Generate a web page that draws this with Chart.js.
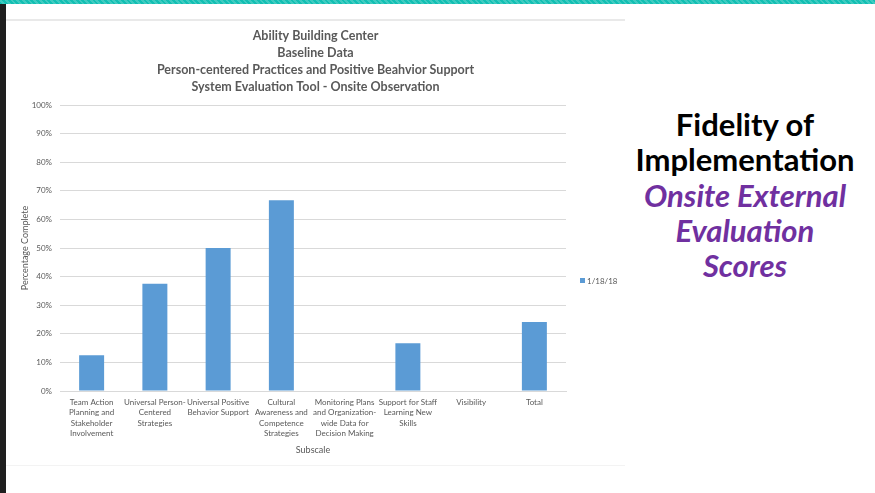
<!DOCTYPE html>
<html>
<head>
<meta charset="utf-8">
<script src="https://cdn.jsdelivr.net/npm/chart.js@4.4.0/dist/chart.umd.min.js"></script>
<style>
  body { margin: 0; width: 875px; height: 493px; background: #fff; position: relative; overflow: hidden; font-family: Lato, "Open Sans", sans-serif; }
  #strip { position: absolute; left: 0; top: 0; width: 875px; height: 4px;
    background: repeating-linear-gradient(45deg, #12bfb3 0 2px, #3fcbc0 2px 4px); }
  #sidebar { position: absolute; left: 0; top: 4px; width: 6px; height: 489px; background: #1f1f1f; }
  #chartBox { position: absolute; left: 6px; top: 19px; width: 619px; height: 444px;
    border-top: 2px solid #e9e9e9; border-bottom: 1px solid #f3f3f3; background: #fff; }
  #side { position: absolute; left: 625px; top: 107px; width: 240px; text-align: center; font-size: 31px; font-weight: bold; line-height: 35.3px; }
  #side .a { color: #000; }
  #side .b { color: #7030a0; font-style: italic; }
</style>
</head>
<body>
<div id="strip"></div>
<div id="sidebar"></div>
<div id="chartBox"><canvas id="myChart" width="619" height="444"></canvas></div>
<div id="side">
  <div class="a">Fidelity of</div>
  <div class="a">Implementation</div>
  <div class="b">Onsite External</div>
  <div class="b">Evaluation</div>
  <div class="b">Scores</div>
</div>
<script>
const titleLines = [
    'Ability Building Center',
    'Baseline Data',
    'Person-centered Practices and Positive Beahvior Support',
    'System Evaluation Tool - Onsite Observation'
];
const subscales = [
    ['Team Action', 'Planning and', 'Stakeholder', 'Involvement'],
    ['Universal Person-', 'Centered', 'Strategies'],
    ['Universal Positive', 'Behavior Support'],
    ['Cultural', 'Awareness and', 'Competence', 'Strategies'],
    ['Monitoring Plans', 'and Organization-', 'wide Data for', 'Decision Making'],
    ['Support for Staff', 'Learning New', 'Skills'],
    ['Visibility'],
    ['Total']
];
const seriesName = '1/18/18';
const scores = [12.5, 37.5, 50, 66.7, 0, 16.7, 0, 24.1];

const grey = '#595959';
const barBlue = '#5b9bd5';

// legend drawn by hand so it sits where Excel puts it
const sideLegend = {
    id: 'sideLegend',
    afterDraw(chart) {
        const ctx = chart.ctx;
        const ds = chart.data.datasets[0];
        ctx.save();
        ctx.fillStyle = ds.backgroundColor;
        ctx.fillRect(574, 257, 5, 5);
        ctx.fillStyle = grey;
        ctx.font = '8px Lato';
        ctx.textBaseline = 'middle';
        ctx.fillText(ds.label, 581, 260);
        ctx.restore();
    }
};

new Chart(document.getElementById('myChart').getContext('2d'), {
    type: 'bar',
    data: {
        labels: subscales,
        datasets: [{
            label: seriesName,
            data: scores,
            backgroundColor: barBlue,
            barPercentage: 0.395,
            categoryPercentage: 1
        }]
    },
    options: {
        responsive: false,
        animation: false,
        plugins: {
            legend: { display: false },
            tooltip: { enabled: false },
            title: {
                display: true,
                text: titleLines,
                color: grey,
                font: { family: 'Lato', size: 12.5, weight: 'bold', lineHeight: 17 / 12.5 },
                padding: { top: 6, bottom: 10 }
            }
        },
        scales: {
            x: {
                grid: { display: false, drawTicks: false },
                border: { display: true, color: '#d9d9d9' },
                ticks: { color: grey, font: { family: 'Lato', size: 8, lineHeight: 1.3 }, padding: 6, maxRotation: 0, autoSkip: false },
                title: { display: true, text: 'Subscale', color: grey, font: { family: 'Lato', size: 9 }, padding: { top: 0, bottom: 10 } },
                afterFit: s => { s.height = 74; }
            },
            y: {
                min: 0,
                max: 100,
                ticks: { stepSize: 10, color: grey, font: { family: 'Lato', size: 8 }, padding: 8, callback: v => v + '%' },
                grid: { color: '#d9d9d9', drawTicks: false },
                border: { display: false },
                title: { display: true, text: 'Percentage Complete', color: grey, font: { family: 'Lato', size: 9 }, padding: { top: 14, bottom: 0 } },
                afterFit: s => { s.width = 54; }
            },
            // empty right-hand axis keeps room for the legend
            legendRoom: {
                position: 'right',
                grid: { display: false },
                ticks: { display: false },
                border: { display: false },
                afterFit: s => { s.width = 59; }
            }
        }
    },
    plugins: [sideLegend]
});
</script>
</body>
</html>
